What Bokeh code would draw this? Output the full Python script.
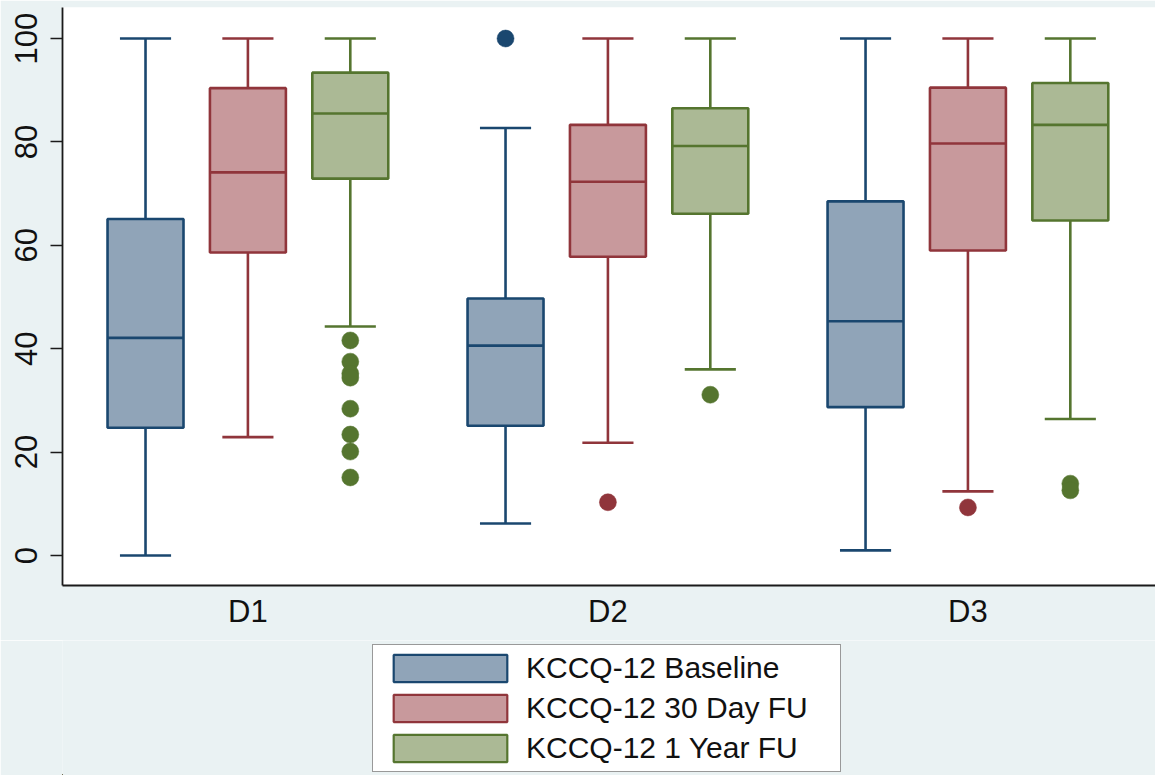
from bokeh.plotting import figure
from bokeh.models import Legend, LegendItem, FixedTicker, Range1d
from bokeh.layouts import column
from bokeh.embed import file_html
from bokeh.resources import INLINE

# ---- data ----
groups = ["D1", "D2", "D3"]
series_names = ["KCCQ-12 Baseline", "KCCQ-12 30 Day FU", "KCCQ-12 1 Year FU"]

base_low = [0.0, 6.2, 1.0]
base_q1 = [24.7, 25.1, 28.7]
base_med = [42.1, 40.6, 45.3]
base_q3 = [65.1, 49.7, 68.5]
base_high = [100.0, 82.7, 100.0]
base_out = [[], [100.0], []]

fu30_low = [22.9, 21.8, 12.4]
fu30_q1 = [58.6, 57.8, 59.0]
fu30_med = [74.1, 72.3, 79.7]
fu30_q3 = [90.4, 83.3, 90.5]
fu30_high = [100.0, 100.0, 100.0]
fu30_out = [[], [10.3], [9.3]]

fu1y_low = [44.3, 36.0, 26.4]
fu1y_q1 = [72.9, 66.1, 64.8]
fu1y_med = [85.5, 79.2, 83.3]
fu1y_q3 = [93.4, 86.5, 91.4]
fu1y_high = [100.0, 100.0, 100.0]
fu1y_out = [[41.6, 37.5, 35.2, 34.4, 28.4, 23.4, 20.1, 15.1], [31.1], [13.9, 12.6]]

y_ticks = [0, 20, 40, 60, 80, 100]

series = [
    (base_low, base_q1, base_med, base_q3, base_high, base_out),
    (fu30_low, fu30_q1, fu30_med, fu30_q3, fu30_high, fu30_out),
    (fu1y_low, fu1y_q1, fu1y_med, fu1y_q3, fu1y_high, fu1y_out),
]
line_colors = ["#1a476f", "#90353b", "#55752f"]
fill_colors = ["#90a4b8", "#c8999c", "#abb995"]
offsets = [-0.2844, 0.0, 0.2844]
box_w = 0.211
cap_w = 0.142
LW = 2.6
FONT = "Liberation Sans"
BG = "#eaf2f3"

p = figure(width=1155, height=640, output_backend="svg", toolbar_location=None,
           x_range=Range1d(-0.515, 2.521), y_range=Range1d(-5.8, 106.0),
           min_border_left=62, min_border_right=0, min_border_top=7,
           min_border_bottom=55)
p.background_fill_color = "white"
p.border_fill_color = BG
p.outline_line_color = None
p.xgrid.visible = False
p.ygrid.visible = False

box_sources = []
for (low, q1, med, q3, high, out), off, lc, fc in zip(series, offsets, line_colors, fill_colors):
    xs = [i + off for i in range(len(groups))]
    box_sources.append((xs, q1, q3))
    p.segment(x0=xs, y0=q3, x1=xs, y1=high, line_color=lc, line_width=LW)
    p.segment(x0=xs, y0=q1, x1=xs, y1=low, line_color=lc, line_width=LW)
    p.segment(x0=[x - cap_w / 2 for x in xs], y0=high, x1=[x + cap_w / 2 for x in xs], y1=high,
              line_color=lc, line_width=LW)
    p.segment(x0=[x - cap_w / 2 for x in xs], y0=low, x1=[x + cap_w / 2 for x in xs], y1=low,
              line_color=lc, line_width=LW)
    p.vbar(x=xs, width=box_w, bottom=q1, top=q3, fill_color=fc, line_color=lc, line_width=LW)
    p.segment(x0=[x - box_w / 2 for x in xs], y0=med, x1=[x + box_w / 2 for x in xs], y1=med,
              line_color=lc, line_width=LW)
    ox, oy = [], []
    for x, vals in zip(xs, out):
        for v in vals:
            ox.append(x)
            oy.append(v)
    if ox:
        p.scatter(x=ox, y=oy, size=17, fill_color=lc, line_color=lc, line_width=0.5)

# axes
p.xaxis.ticker = FixedTicker(ticks=list(range(len(groups))))
p.xaxis.major_label_overrides = {i: g for i, g in enumerate(groups)}
p.xaxis.major_tick_out = 0
p.xaxis.major_tick_in = 0
p.xaxis.minor_tick_out = 0
p.xaxis.minor_tick_in = 0
p.xaxis.major_label_standoff = 8
p.yaxis.ticker = FixedTicker(ticks=y_ticks)
p.yaxis.major_tick_out = 12
p.yaxis.major_tick_in = 0
p.yaxis.minor_tick_out = 0
p.yaxis.minor_tick_in = 0
p.yaxis.major_label_orientation = "vertical"
p.yaxis.major_label_standoff = 13
for ax in (p.xaxis, p.yaxis):
    ax.axis_line_color = "#1a1a1a"
    ax.axis_line_width = 1.8
    ax.major_tick_line_color = "#1a1a1a"
    ax.major_tick_line_width = 1.5
    ax.major_label_text_font = FONT
    ax.major_label_text_font_size = "31px"
    ax.major_label_text_color = "#111111"

# ---- legend strip (box glyphs kept out of view, used only as legend proxies) ----
lg = figure(width=1155, height=135, output_backend="svg", toolbar_location=None,
            x_range=Range1d(5000, 5001), y_range=Range1d(5000, 5001),
            x_axis_location=None, y_axis_location=None,
            min_border_left=0, min_border_right=0, min_border_top=0, min_border_bottom=0)
lg.grid.visible = False
lg.outline_line_color = None
lg.background_fill_color = BG
lg.border_fill_color = BG

items = []
for (xs, q1, q3), lc, fc, name in zip(box_sources, line_colors, fill_colors, series_names):
    r = lg.vbar(x=xs, width=box_w, bottom=q1, top=q3, fill_color=fc, line_color=lc, line_width=2.2)
    items.append(LegendItem(label=name, renderers=[r]))

legend = Legend(items=items, location=(310, 3), orientation="vertical")
legend.label_text_font = FONT
legend.label_text_font_size = "30px"
legend.label_text_color = "#111111"
legend.glyph_width = 142
legend.glyph_height = 34
legend.label_height = 34
legend.label_width = 308
legend.spacing = 6
legend.padding = 6
legend.margin = 0
legend.label_standoff = 5
legend.border_line_color = "#333333"
legend.border_line_width = 1.5
legend.background_fill_color = "white"
legend.background_fill_alpha = 1.0
lg.add_layout(legend, "center")

layout = column(p, lg, spacing=0)
open("out.html", "w").write(file_html(layout, INLINE))
